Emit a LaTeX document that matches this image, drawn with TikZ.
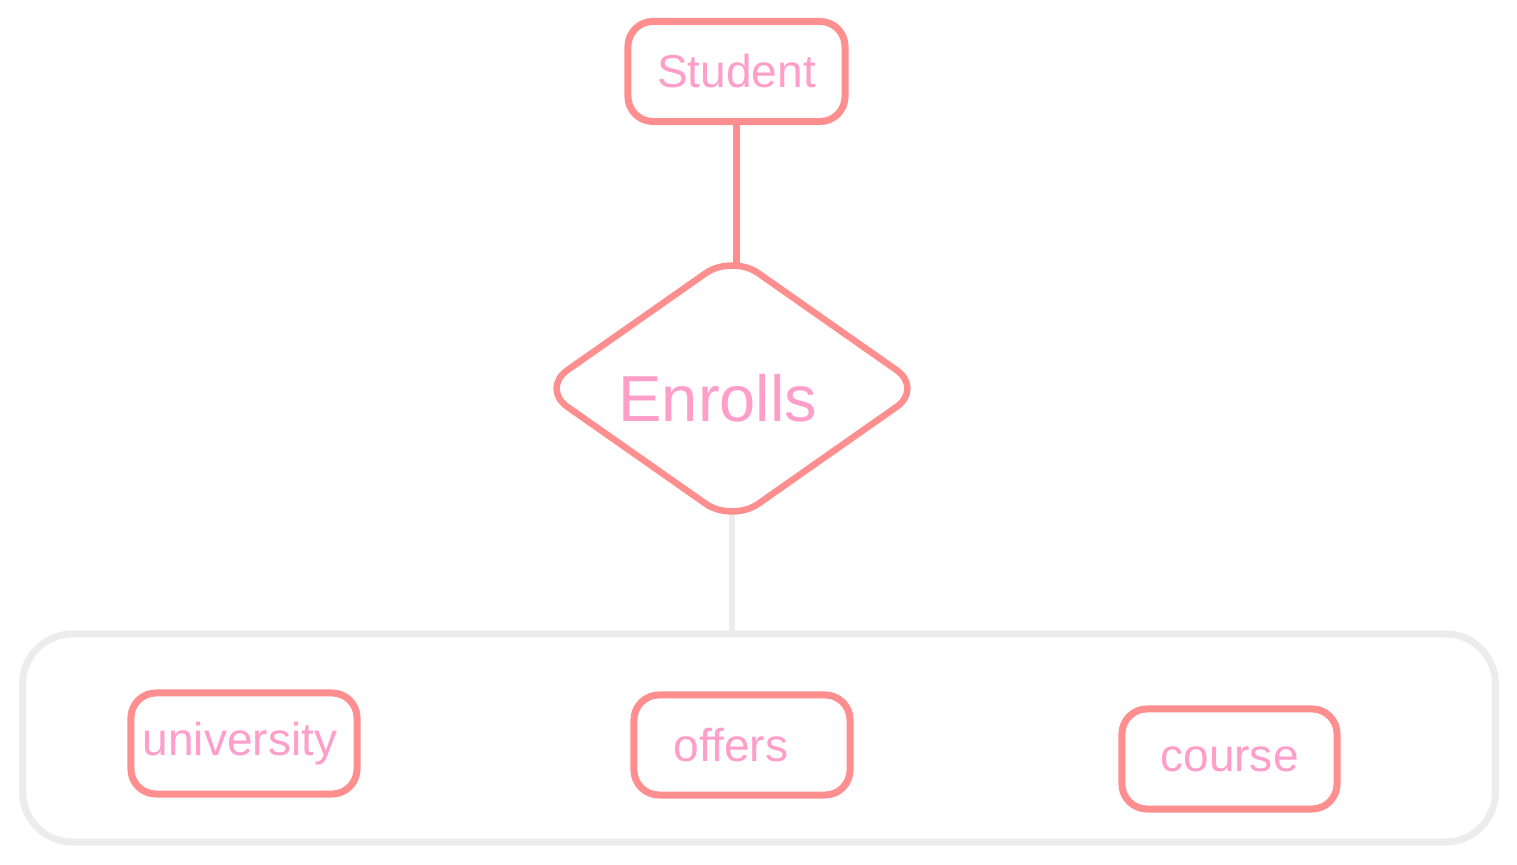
\documentclass[tikz,border=0pt]{standalone}
\usepackage{fontspec}
\setmainfont{Liberation Sans}
\usetikzlibrary{shapes.geometric,backgrounds}
\definecolor{edge}{RGB}{255,143,143}
\definecolor{txt}{RGB}{255,158,200}
\definecolor{grp}{RGB}{236,236,236}
\tikzset{
  entity/.style={draw=edge, line width=0.07cm, fill=white, rounded corners=0.25cm,
    minimum width=2.17cm, minimum height=1.0cm, inner sep=0pt, text=txt,
    font=\fontsize{13.1}{15}\selectfont},
  rel/.style={draw=edge, line width=0.065cm, fill=white, diamond, rounded corners=0.32cm,
    minimum width=3.84cm, minimum height=2.7cm, inner sep=0pt},
  reltext/.style={text=txt, font=\fontsize{18.5}{22}\selectfont, inner sep=0pt},
  group/.style={draw=grp, line width=0.07cm, rounded corners=0.5cm, inner sep=0pt},
  link/.style={draw=edge, line width=0.065cm, line cap=round},
  glink/.style={draw=grp, line width=0.065cm, line cap=round}
}
\begin{document}
\begin{tikzpicture}[x=0.01cm,y=-0.01cm]
\useasboundingbox (0,0) rectangle (1517,865);
\node[group, minimum width=14.72cm, minimum height=2.08cm] (grp) at (759,738) {};
\node[entity] (student) at (736.5,71.5) {Student};
\node[rel] (enr) at (732,388.5) {};
\node[reltext] (enrt) at (718,398) {Enrolls};
\node[entity, minimum width=2.26cm, minimum height=1.01cm] (univ) at (244,743.5) {\hspace*{-0.08cm}university};
\node[entity, minimum width=2.16cm] (offers) at (742,745) {offers\hspace*{0.22cm}};
\node[entity, minimum width=2.15cm] (course) at (1229.5,759) {course};
\begin{pgfonlayer}{background}
\draw[link] (student.south) -- ([yshift=-0.3cm]student.south |- enr.north);
\draw[glink] ([yshift=0.3cm]enr.south) -- (enr.south |- grp.north);
\end{pgfonlayer}
\end{tikzpicture}
\end{document}
